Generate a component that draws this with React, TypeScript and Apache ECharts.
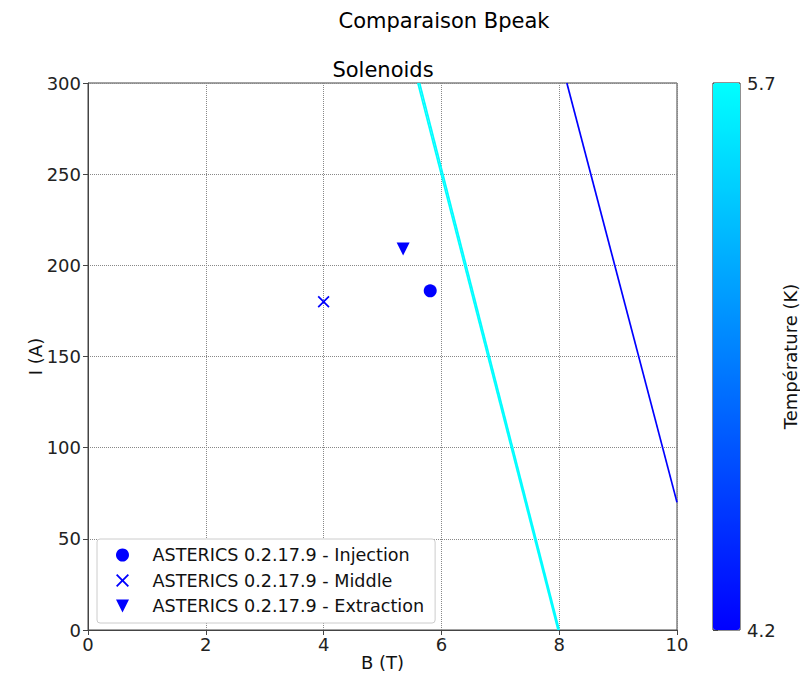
import React, { useEffect, useRef } from "react";
import * as echarts from "echarts";

// Axis ticks
const xTicks = [0, 2, 4, 6, 8, 10];
const yTicks = [0, 50, 100, 150, 200, 250, 300];

// Temperature colour scale (K)
const tempMin = 4.2;
const tempMax = 5.7;
const tempColors = ["#0000ff", "#00ffff"];

// Critical lines I(B), one per temperature
const lineTemps = [5.7, 5.68, 4.2];
const lineB = [
  [5.6, 7.98],
  [5.63, 8.0],
  [8.13, 10],
];
const lineI = [
  [300, 0],
  [300, 0],
  [300, 70],
];

// Peak field measurements
const pointNames = [
  "ASTERICS 0.2.17.9 - Injection",
  "ASTERICS 0.2.17.9 - Middle",
  "ASTERICS 0.2.17.9 - Extraction",
];
const pointB = [5.81, 4.0, 5.35];
const pointI = [186, 180, 209];

const FONT = "DejaVu Sans, sans-serif";
const crossPath =
  "path://M0,1L1,0L5,4L9,0L10,1L6,5L10,9L9,10L5,6L1,10L0,9L4,5Z";
const triDownPath = "path://M0,0L10,0L5,10Z";
const pointSymbols = ["circle", crossPath, triDownPath];
const pointSizes = [13, 12, 13];

function tempColor(t: number): string {
  const f = Math.max(0, Math.min(1, (t - tempMin) / (tempMax - tempMin)));
  const a = tempColors[0];
  const b = tempColors[1];
  const ch = (s: string, i: number) => parseInt(s.slice(1 + i * 2, 3 + i * 2), 16);
  const out = [0, 1, 2].map((i) => Math.round(ch(a, i) + (ch(b, i) - ch(a, i)) * f));
  return "rgb(" + out.join(",") + ")";
}

export default function App() {
  const ref = useRef<HTMLDivElement>(null);

  useEffect(() => {
    if (!ref.current) return;
    const chart = echarts.init(ref.current, undefined, { renderer: "svg" });

    const lineSeries = lineTemps.map((t, i) => ({
      type: "line",
      name: "T = " + t + " K",
      xAxisIndex: 0,
      yAxisIndex: 0,
      data: lineB[i].map((b, j) => [b, lineI[i][j]]),
      showSymbol: false,
      lineStyle: { color: tempColor(t), width: 1.7 },
      itemStyle: { color: tempColor(t) },
      z: 3,
    }));

    const pointSeries = pointNames.map((n, i) => ({
      type: "scatter",
      name: n,
      xAxisIndex: 0,
      yAxisIndex: 0,
      data: [[pointB[i], pointI[i]]],
      symbol: pointSymbols[i],
      symbolSize: pointSizes[i],
      itemStyle: { color: "#0000ff", opacity: 1 },
      z: 4,
    }));

    const axisText = { color: "#222", fontSize: 18, fontFamily: FONT };
    const nameText = { color: "#111", fontSize: 18, fontFamily: FONT, lineHeight: 18 };

    chart.setOption({
      animation: false,
      backgroundColor: "#fff",
      textStyle: { fontFamily: FONT },
      graphic: [
        {
          type: "text",
          x: 444,
          y: 21,
          style: {
            text: "Comparaison Bpeak",
            fill: "#000",
            font: "21px " + FONT,
            textAlign: "center",
            textVerticalAlign: "middle",
          },
        },
        {
          type: "text",
          x: 383,
          y: 70,
          style: {
            text: "Solenoids",
            fill: "#000",
            font: "21px " + FONT,
            textAlign: "center",
            textVerticalAlign: "middle",
          },
        },
      ],
      grid: [
        {
          left: 88,
          top: 83,
          width: 589,
          height: 547,
          outerBoundsMode: "none",
          containLabel: false,
          show: true,
          borderColor: "#444",
          borderWidth: 1,
          backgroundColor: "#fff",
        },
        {
          left: 713,
          top: 83,
          width: 27,
          height: 547,
          outerBoundsMode: "none",
          containLabel: false,
          show: true,
          borderColor: "#222",
          borderWidth: 1,
        },
      ],
      xAxis: [
        {
          type: "value",
          gridIndex: 0,
          min: xTicks[0],
          max: xTicks[xTicks.length - 1],
          interval: xTicks[1] - xTicks[0],
          name: "B (T)",
          nameLocation: "middle",
          nameGap: 23,
          nameMoveOverlap: false,
          nameTextStyle: nameText,
          axisLine: { show: true, onZero: false, lineStyle: { color: "#444" } },
          axisTick: { show: true, length: 5, lineStyle: { color: "#444" } },
          axisLabel: { ...axisText, margin: 5 },
          splitLine: { show: true, lineStyle: { color: "#888", type: "dotted", width: 1 } },
        },
        {
          type: "value",
          gridIndex: 1,
          min: 0,
          max: 1,
          show: false,
        },
      ],
      yAxis: [
        {
          type: "value",
          gridIndex: 0,
          min: yTicks[0],
          max: yTicks[yTicks.length - 1],
          interval: yTicks[1] - yTicks[0],
          name: "I (A)",
          nameLocation: "middle",
          nameGap: 44,
          nameMoveOverlap: false,
          nameTextStyle: nameText,
          axisLine: { show: true, onZero: false, lineStyle: { color: "#444" } },
          axisTick: { show: true, length: 5, lineStyle: { color: "#444" } },
          axisLabel: { ...axisText, margin: 7 },
          splitLine: { show: true, lineStyle: { color: "#888", type: "dotted", width: 1 } },
        },
        {
          type: "value",
          gridIndex: 1,
          position: "right",
          min: tempMin,
          max: tempMax,
          interval: tempMax - tempMin,
          name: "Température (K)",
          nameLocation: "middle",
          nameRotate: 90,
          nameGap: 41,
          nameMoveOverlap: false,
          nameTextStyle: nameText,
          axisLine: { show: false },
          axisTick: { show: true, length: 5, lineStyle: { color: "#444" } },
          axisLabel: { ...axisText, margin: 7, formatter: (v: number) => v.toFixed(1) },
          splitLine: { show: false },
        },
      ],
      visualMap: {
        type: "continuous",
        min: tempMin,
        max: tempMax,
        seriesIndex: [],
        orient: "vertical",
        left: 713,
        top: 83,
        padding: 0,
        itemWidth: 27,
        itemHeight: 547,
        calculable: false,
        hoverLink: false,
        showLabel: false,
        text: ["", ""],
        inRange: { color: tempColors },
        z: 1,
      },
      legend: {
        orient: "vertical",
        left: 97,
        top: 539,
        data: pointNames,
        backgroundColor: "#fff",
        borderColor: "#ccc",
        borderWidth: 1,
        borderRadius: 3,
        padding: [7, 11, 8, 19],
        itemWidth: 40,
        itemHeight: 13,
        itemGap: 7.5,
        selectedMode: false,
        textStyle: {
          color: "#111",
          fontSize: 17.6,
          fontFamily: FONT,
          lineHeight: 18,
          padding: [0, 0, 0, 5],
        },
      },
      series: [...lineSeries, ...pointSeries],
    });

    return () => chart.dispose();
  }, []);

  return (
    <div
      ref={ref}
      style={{ position: "fixed", left: 0, top: 0, width: 800, height: 674 }}
    />
  );
}
